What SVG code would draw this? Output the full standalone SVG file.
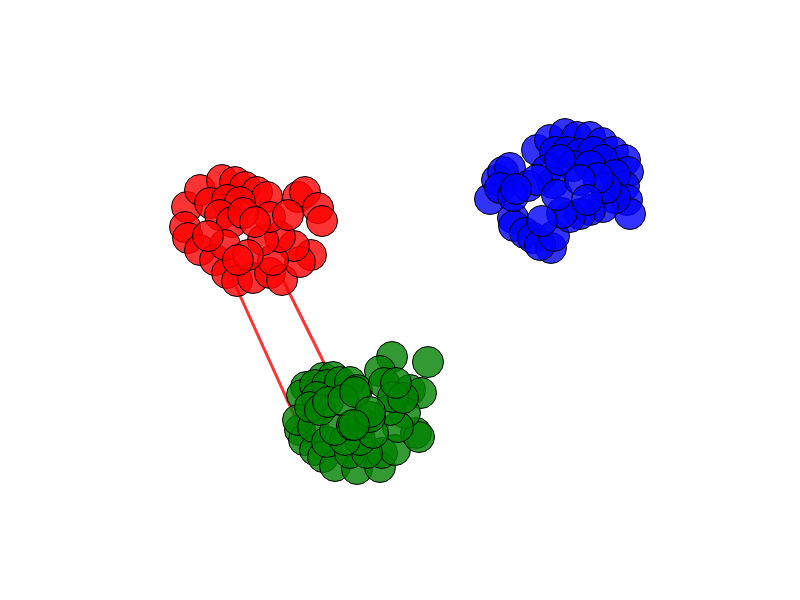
<svg xmlns="http://www.w3.org/2000/svg" width="800" height="600" viewBox="0 0 800 600">
<style>
.e{stroke:#ff0000;stroke-opacity:0.8;stroke-width:3;fill:none}
circle{stroke:#000;stroke-width:1;r:15.5}
.r circle{fill:#ff0000;fill-opacity:0.8}
.g circle{fill:#008000;fill-opacity:0.8}
.b circle{fill:#0000ff;fill-opacity:0.8}
</style>
<rect width="800" height="600" fill="#fff"/>
<g id="connectors">
<line class="e" x1="232" y1="278" x2="300" y2="428"/>
<line class="e" x1="283" y1="280" x2="335" y2="385"/>
</g>
<g id="red" class="r">
<g id="r1"><circle cx="187" cy="207" r="15.5"/></g>
<g id="r2"><circle cx="200" cy="190" r="15.5"/></g>
<g id="r3"><circle cx="222" cy="180" r="15.5"/></g>
<g id="r4"><circle cx="235" cy="182" r="15.5"/></g>
<g id="r5"><circle cx="245" cy="187" r="15.5"/></g>
<g id="r6"><circle cx="257" cy="192" r="15.5"/></g>
<g id="r7"><circle cx="185" cy="227" r="15.5"/></g>
<g id="r8"><circle cx="188" cy="238" r="15.5"/></g>
<g id="r9"><circle cx="200" cy="250" r="15.5"/></g>
<g id="r10"><circle cx="215" cy="260" r="15.5"/></g>
<g id="r11"><circle cx="227" cy="273" r="15.5"/></g>
<g id="r12"><circle cx="237" cy="281" r="15.5"/></g>
<g id="r13"><circle cx="253" cy="278" r="15.5"/></g>
<g id="r14"><circle cx="270" cy="273" r="15.5"/></g>
<g id="r15"><circle cx="282" cy="280" r="15.5"/></g>
<g id="r16"><circle cx="298" cy="197" r="15.5"/></g>
<g id="r17"><circle cx="305" cy="192" r="15.5"/></g>
<g id="r18"><circle cx="318" cy="208" r="15.5"/></g>
<g id="r19"><circle cx="322" cy="221" r="15.5"/></g>
<g id="r20"><circle cx="311" cy="255" r="15.5"/></g>
<g id="r21"><circle cx="300" cy="262" r="15.5"/></g>
<g id="r22"><circle cx="294" cy="246" r="15.5"/></g>
<g id="r23"><circle cx="273" cy="260" r="15.5"/></g>
<g id="r24"><circle cx="280" cy="237" r="15.5"/></g>
<g id="r25"><circle cx="263" cy="240" r="15.5"/></g>
<g id="r26"><circle cx="267" cy="197" r="15.5"/></g>
<g id="r27"><circle cx="270" cy="217" r="15.5"/></g>
<g id="r28"><circle cx="210" cy="203" r="15.5"/></g>
<g id="r29"><circle cx="227" cy="200" r="15.5"/></g>
<g id="r30"><circle cx="240" cy="202" r="15.5"/></g>
<g id="r31"><circle cx="220" cy="215" r="15.5"/></g>
<g id="r32"><circle cx="232" cy="222" r="15.5"/></g>
<g id="r33"><circle cx="243" cy="213" r="15.5"/></g>
<g id="r34"><circle cx="225" cy="245" r="15.5"/></g>
<g id="r35"><circle cx="248" cy="255" r="15.5"/></g>
<g id="r36"><circle cx="208" cy="236" r="15.5"/></g>
<g id="r37"><circle cx="288" cy="215" r="15.5"/></g>
<g id="r38"><circle cx="255" cy="222" r="15.5"/></g>
<g id="r39"><circle cx="238" cy="260" r="15.5"/></g>
</g>
<g id="green" class="g">
<g id="g1"><circle cx="392" cy="357" r="15.5"/></g>
<g id="g2"><circle cx="428" cy="362" r="15.5"/></g>
<g id="g3"><circle cx="380" cy="371" r="15.5"/></g>
<g id="g4"><circle cx="323" cy="378" r="15.5"/></g>
<g id="g5"><circle cx="333" cy="377" r="15.5"/></g>
<g id="g6"><circle cx="306" cy="387" r="15.5"/></g>
<g id="g7"><circle cx="302" cy="395" r="15.5"/></g>
<g id="g8"><circle cx="315" cy="385" r="15.5"/></g>
<g id="g9"><circle cx="327" cy="385" r="15.5"/></g>
<g id="g10"><circle cx="340" cy="382" r="15.5"/></g>
<g id="g11"><circle cx="350" cy="382" r="15.5"/></g>
<g id="g12"><circle cx="357" cy="390" r="15.5"/></g>
<g id="g13"><circle cx="384" cy="383" r="15.5"/></g>
<g id="g14"><circle cx="410" cy="390" r="15.5"/></g>
<g id="g15"><circle cx="421" cy="393" r="15.5"/></g>
<g id="g16"><circle cx="300" cy="430" r="15.5"/></g>
<g id="g17"><circle cx="304" cy="440" r="15.5"/></g>
<g id="g18"><circle cx="315" cy="450" r="15.5"/></g>
<g id="g19"><circle cx="323" cy="457" r="15.5"/></g>
<g id="g20"><circle cx="335" cy="466" r="15.5"/></g>
<g id="g21"><circle cx="357" cy="469" r="15.5"/></g>
<g id="g22"><circle cx="380" cy="467" r="15.5"/></g>
<g id="g23"><circle cx="382" cy="453" r="15.5"/></g>
<g id="g24"><circle cx="395" cy="450" r="15.5"/></g>
<g id="g25"><circle cx="416" cy="433" r="15.5"/></g>
<g id="g26"><circle cx="419" cy="437" r="15.5"/></g>
<g id="g27"><circle cx="405" cy="413" r="15.5"/></g>
<g id="g28"><circle cx="398" cy="427" r="15.5"/></g>
<g id="g29"><circle cx="390" cy="410" r="15.5"/></g>
<g id="g30"><circle cx="393" cy="397" r="15.5"/></g>
<g id="g31"><circle cx="403" cy="398" r="15.5"/></g>
<g id="g32"><circle cx="298" cy="420" r="15.5"/></g>
<g id="g33"><circle cx="313" cy="427" r="15.5"/></g>
<g id="g34"><circle cx="327" cy="442" r="15.5"/></g>
<g id="g35"><circle cx="350" cy="453" r="15.5"/></g>
<g id="g36"><circle cx="367" cy="453" r="15.5"/></g>
<g id="g37"><circle cx="360" cy="440" r="15.5"/></g>
<g id="g38"><circle cx="345" cy="440" r="15.5"/></g>
<g id="g39"><circle cx="335" cy="430" r="15.5"/></g>
<g id="g40"><circle cx="362" cy="423" r="15.5"/></g>
<g id="g41"><circle cx="373" cy="433" r="15.5"/></g>
<g id="g42"><circle cx="370" cy="417" r="15.5"/></g>
<g id="g43"><circle cx="317" cy="397" r="15.5"/></g>
<g id="g44"><circle cx="310" cy="407" r="15.5"/></g>
<g id="g45"><circle cx="352" cy="425" r="15.5"/></g>
<g id="g46"><circle cx="320" cy="410" r="15.5"/></g>
<g id="g47"><circle cx="328" cy="402" r="15.5"/></g>
<g id="g48"><circle cx="343" cy="400" r="15.5"/></g>
<g id="g49"><circle cx="355" cy="392" r="15.5"/></g>
<g id="g50"><circle cx="370" cy="412" r="15.5"/></g>
<g id="g51"><circle cx="354" cy="425" r="15.5"/></g>
<g id="g52"><circle cx="396" cy="383" r="15.5"/></g>
</g>
<g id="blue" class="b">
<g id="b1"><circle cx="537" cy="150" r="15.5"/></g>
<g id="b2"><circle cx="550" cy="140" r="15.5"/></g>
<g id="b3"><circle cx="565" cy="134" r="15.5"/></g>
<g id="b4"><circle cx="577" cy="137" r="15.5"/></g>
<g id="b5"><circle cx="590" cy="137" r="15.5"/></g>
<g id="b6"><circle cx="602" cy="143" r="15.5"/></g>
<g id="b7"><circle cx="613" cy="152" r="15.5"/></g>
<g id="b8"><circle cx="625" cy="160" r="15.5"/></g>
<g id="b9"><circle cx="628" cy="172" r="15.5"/></g>
<g id="b10"><circle cx="624" cy="186" r="15.5"/></g>
<g id="b11"><circle cx="627" cy="200" r="15.5"/></g>
<g id="b12"><circle cx="630" cy="214" r="15.5"/></g>
<g id="b13"><circle cx="490" cy="199" r="15.5"/></g>
<g id="b14"><circle cx="497" cy="180" r="15.5"/></g>
<g id="b15"><circle cx="503" cy="172" r="15.5"/></g>
<g id="b16"><circle cx="510" cy="168" r="15.5"/></g>
<g id="b17"><circle cx="500" cy="188" r="15.5"/></g>
<g id="b18"><circle cx="513" cy="218" r="15.5"/></g>
<g id="b19"><circle cx="514" cy="226" r="15.5"/></g>
<g id="b20"><circle cx="525" cy="233" r="15.5"/></g>
<g id="b21"><circle cx="533" cy="238" r="15.5"/></g>
<g id="b22"><circle cx="551" cy="248" r="15.5"/></g>
<g id="b23"><circle cx="540" cy="245" r="15.5"/></g>
<g id="b24"><circle cx="554" cy="236" r="15.5"/></g>
<g id="b25"><circle cx="555" cy="152" r="15.5"/></g>
<g id="b26"><circle cx="567" cy="152" r="15.5"/></g>
<g id="b27"><circle cx="580" cy="154" r="15.5"/></g>
<g id="b28"><circle cx="593" cy="152" r="15.5"/></g>
<g id="b29"><circle cx="603" cy="160" r="15.5"/></g>
<g id="b30"><circle cx="547" cy="170" r="15.5"/></g>
<g id="b31"><circle cx="573" cy="166" r="15.5"/></g>
<g id="b32"><circle cx="590" cy="166" r="15.5"/></g>
<g id="b33"><circle cx="615" cy="175" r="15.5"/></g>
<g id="b34"><circle cx="615" cy="198" r="15.5"/></g>
<g id="b35"><circle cx="603" cy="207" r="15.5"/></g>
<g id="b36"><circle cx="590" cy="210" r="15.5"/></g>
<g id="b37"><circle cx="580" cy="214" r="15.5"/></g>
<g id="b38"><circle cx="570" cy="217" r="15.5"/></g>
<g id="b39"><circle cx="562" cy="213" r="15.5"/></g>
<g id="b40"><circle cx="553" cy="183" r="15.5"/></g>
<g id="b41"><circle cx="606" cy="188" r="15.5"/></g>
<g id="b42"><circle cx="513" cy="196" r="15.5"/></g>
<g id="b43"><circle cx="528" cy="186" r="15.5"/></g>
<g id="b44"><circle cx="537" cy="180" r="15.5"/></g>
<g id="b45"><circle cx="560" cy="160" r="15.5"/></g>
<g id="b46"><circle cx="598" cy="178" r="15.5"/></g>
<g id="b47"><circle cx="516" cy="189" r="15.5"/></g>
<g id="b48"><circle cx="542" cy="221" r="15.5"/></g>
<g id="b49"><circle cx="557" cy="195" r="15.5"/></g>
<g id="b50"><circle cx="580" cy="180" r="15.5"/></g>
<g id="b51"><circle cx="587" cy="200" r="15.5"/></g>
</g>
</svg>
